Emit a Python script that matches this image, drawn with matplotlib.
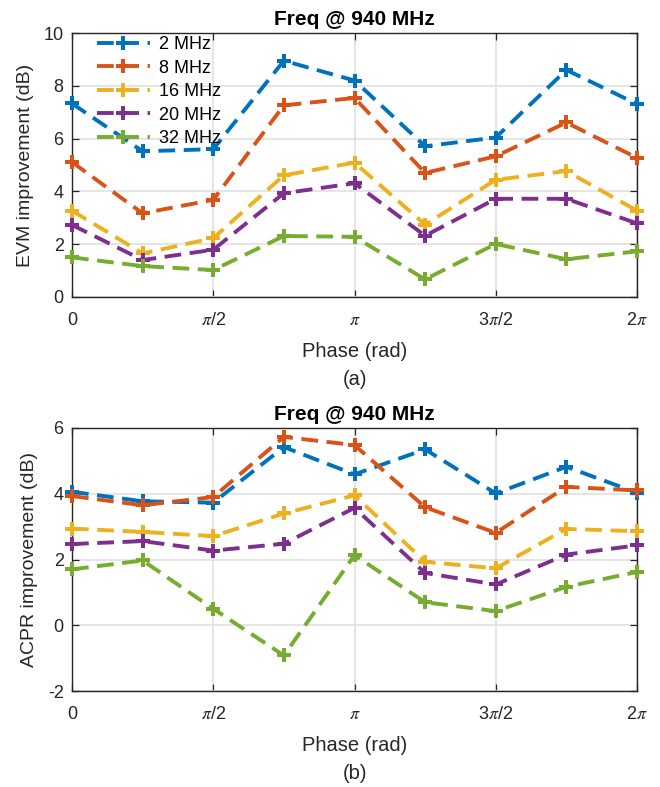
import numpy as np
import matplotlib
matplotlib.use("Agg")
import matplotlib.pyplot as plt

plt.rcParams['font.family'] = ['Liberation Sans', 'DejaVu Sans']
plt.rcParams['mathtext.fontset'] = 'stix'
plt.rcParams['axes.unicode_minus'] = False

phase_steps = np.arange(9)  # multiples of pi/4
series_labels = ["2 MHz", "8 MHz", "16 MHz", "20 MHz", "32 MHz"]
colors = ["#0072BD", "#D95319", "#EDB120", "#7E2F8E", "#77AC30"]

evm_2 = [7.33, 5.52, 5.60, 8.95, 8.20, 5.71, 6.04, 8.60, 7.31]
evm_8 = [5.11, 3.17, 3.68, 7.26, 7.54, 4.70, 5.33, 6.61, 5.27]
evm_16 = [3.27, 1.65, 2.23, 4.61, 5.09, 2.74, 4.44, 4.77, 3.27]
evm_20 = [2.73, 1.40, 1.79, 3.93, 4.31, 2.32, 3.72, 3.72, 2.79]
evm_32 = [1.50, 1.17, 1.02, 2.31, 2.28, 0.67, 2.01, 1.43, 1.73]

acpr_2 = [4.06, 3.77, 3.73, 5.42, 4.59, 5.35, 4.01, 4.82, 4.03]
acpr_8 = [3.93, 3.65, 3.90, 5.73, 5.48, 3.59, 2.81, 4.21, 4.10]
acpr_16 = [2.94, 2.84, 2.71, 3.40, 3.95, 1.93, 1.73, 2.93, 2.86]
acpr_20 = [2.47, 2.56, 2.27, 2.48, 3.57, 1.59, 1.24, 2.15, 2.43]
acpr_32 = [1.70, 1.97, 0.50, -0.92, 2.13, 0.70, 0.43, 1.17, 1.62]

xtick_labels = ["0", r"$\pi$/2", r"$\pi$", r"3$\pi$/2", r"2$\pi$"]
title = "Freq @ 940 MHz"

x = phase_steps * np.pi / 4

fig = plt.figure(figsize=(6.6, 7.87), dpi=100)
W, H = 660, 787
ax1 = fig.add_axes([72 / W, 1 - 297 / H, (637 - 72) / W, (297 - 33) / H])
ax2 = fig.add_axes([72 / W, 1 - 691 / H, (637 - 72) / W, (691 - 428) / H])

TXT = "#262626"


def style(ax, ylim, yticks, ylabel, tag):
    ax.set_xlim(0, 2 * np.pi)
    ax.set_ylim(*ylim)
    ax.set_xticks(np.arange(5) * np.pi / 2)
    ax.set_xticklabels(xtick_labels)
    ax.set_yticks(yticks)
    ax.grid(True, color="#e0e0e0", linewidth=1.2)
    ax.set_axisbelow(True)
    ax.tick_params(direction="in", top=True, right=True, length=5,
                   width=0.9, labelsize=13, color=TXT, labelcolor=TXT)
    ax.tick_params(axis="y", pad=6)
    ax.tick_params(axis="x", pad=11)
    for s in ax.spines.values():
        s.set_color(TXT)
        s.set_linewidth(1.0)
    ax.set_title(title, fontsize=15, fontweight="bold", pad=6)
    ax.set_ylabel(ylabel, fontsize=14, color=TXT, labelpad=7)
    ax.set_xlabel("Phase (rad)\n(" + tag + ")", fontsize=14.5, color=TXT,
                  linespacing=1.6, labelpad=9)


evm = [evm_2, evm_8, evm_16, evm_20, evm_32]
acpr = [acpr_2, acpr_8, acpr_16, acpr_20, acpr_32]

line_kw = dict(linestyle=(0, (4.3, 2.2)), linewidth=2.8, marker="P",
               markersize=10, markeredgewidth=0, clip_on=False, zorder=3)

for ys, c, lab in zip(evm, colors, series_labels):
    ax1.plot(x, ys, color=c, label=lab, **line_kw)
for ys, c, lab in zip(acpr, colors, series_labels):
    ax2.plot(x, ys, color=c, label=lab, **line_kw)

style(ax1, (0, 10), [0, 2, 4, 6, 8, 10], "EVM improvement (dB)", "a")
style(ax2, (-2, 6), [-2, 0, 2, 4, 6], "ACPR improvement (dB)", "b")

ax1.legend(loc="upper left", frameon=False, fontsize=13, handlelength=2.9,
           handletextpad=0.5, borderaxespad=0.0, labelspacing=0.36,
           bbox_to_anchor=(0.032, 1.015))

fig.savefig("out.png", dpi=100)
